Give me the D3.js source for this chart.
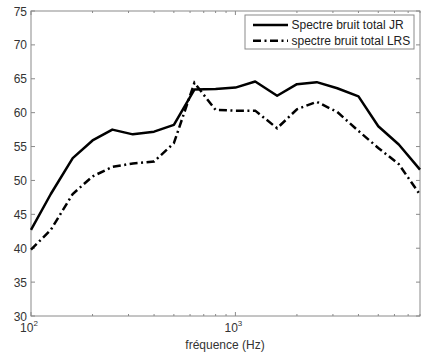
<!DOCTYPE html>
<html><head><meta charset="utf-8">
<script src="https://cdn.jsdelivr.net/npm/d3@7"></script>
<style>body{margin:0;background:#fff}svg{display:block}text{font-family:"Liberation Sans",Arial,sans-serif}</style>
</head><body><svg id="c" width="435" height="355"></svg>
<script>
const freqs = [100,125,160,200,250,315,400,500,630,800,1000,1250,1600,2000,2500,3150,4000,5000,6300,8000];
const jr  = [42.7,48.0,53.3,55.9,57.5,56.8,57.2,58.2,63.4,63.5,63.7,64.6,62.5,64.2,64.5,63.6,62.4,58.0,55.3,51.6];
const lrs = [39.8,42.7,48.0,50.6,52.0,52.5,52.8,55.5,64.4,60.4,60.3,60.3,57.7,60.5,61.6,60.1,57.3,54.8,52.4,47.9];
const yTicks = [30,35,40,45,50,55,60,65,70,75];
const xMajor = [100,1000];
const xMinor = [200,300,400,500,600,700,800,900,2000,3000,4000,5000,6000,7000,8000];
const seriesNames = ["Spectre bruit total JR","spectre bruit total LRS"];

const svg = d3.select("#c");
const L=31,R=420,T=11,B=316;
const x = d3.scaleLog().domain([100,8000]).range([L,R]);
const y = d3.scaleLinear().domain([30,75]).range([B,T]);
const axCol="#8a8a8a";

const g = svg.append("g");
yTicks.forEach(v=>{
  g.append("line").attr("x1",L).attr("x2",L+4).attr("y1",y(v)).attr("y2",y(v)).attr("stroke",axCol);
  g.append("line").attr("x1",R-4).attr("x2",R).attr("y1",y(v)).attr("y2",y(v)).attr("stroke",axCol);
  g.append("text").attr("x",27).attr("y",y(v)+4.5).attr("text-anchor","end").attr("font-size",12).attr("fill","#333").text(v);
});
xMajor.forEach(v=>{
  g.append("line").attr("x1",x(v)).attr("x2",x(v)).attr("y1",B).attr("y2",B-4).attr("stroke",axCol);
  g.append("line").attr("x1",x(v)).attr("x2",x(v)).attr("y1",T).attr("y2",T+4).attr("stroke",axCol);
  const t = g.append("text").attr("x",x(v)-2).attr("y",332).attr("text-anchor","middle").attr("font-size",12).attr("fill","#333");
  t.append("tspan").text("10");
  t.append("tspan").attr("dy",-6).attr("font-size",8).text(Math.round(Math.log10(v)));
});
xMinor.forEach(v=>{
  g.append("line").attr("x1",x(v)).attr("x2",x(v)).attr("y1",B).attr("y2",B-2).attr("stroke",axCol);
  g.append("line").attr("x1",x(v)).attr("x2",x(v)).attr("y1",T).attr("y2",T+2).attr("stroke",axCol);
});
g.append("rect").attr("x",L).attr("y",T).attr("width",R-L).attr("height",B-T).attr("fill","none").attr("stroke",axCol);

g.append("text").attr("x",225).attr("y",349).attr("text-anchor","middle").attr("font-size",12).attr("fill","#333").text("fréquence (Hz)");

const line = d3.line().x((d,i)=>x(freqs[i])).y(d=>y(d));
g.append("path").datum(jr).attr("d",line).attr("fill","none").attr("stroke","#000").attr("stroke-width",2.5).attr("stroke-linejoin","round");
g.append("path").datum(lrs).attr("d",line).attr("fill","none").attr("stroke","#000").attr("stroke-width",2.5).attr("stroke-dasharray","8,3.5,2,3.5");

const lg = svg.append("g");
lg.append("rect").attr("x",245).attr("y",15).attr("width",169).attr("height",34).attr("fill","#fff").attr("stroke",axCol);
const dashes=[null,"8,3.5,2,3.5"];
[25,40.7].forEach((yy,i)=>{
  const l=lg.append("line").attr("x1",253).attr("x2",288).attr("y1",yy).attr("y2",yy).attr("stroke","#000").attr("stroke-width",2.5);
  if(dashes[i]) l.attr("stroke-dasharray",dashes[i]);
  lg.append("text").attr("x",291.5).attr("y",yy+4).attr("font-size",12).attr("fill","#222").text(seriesNames[i]);
});
</script></body></html>
